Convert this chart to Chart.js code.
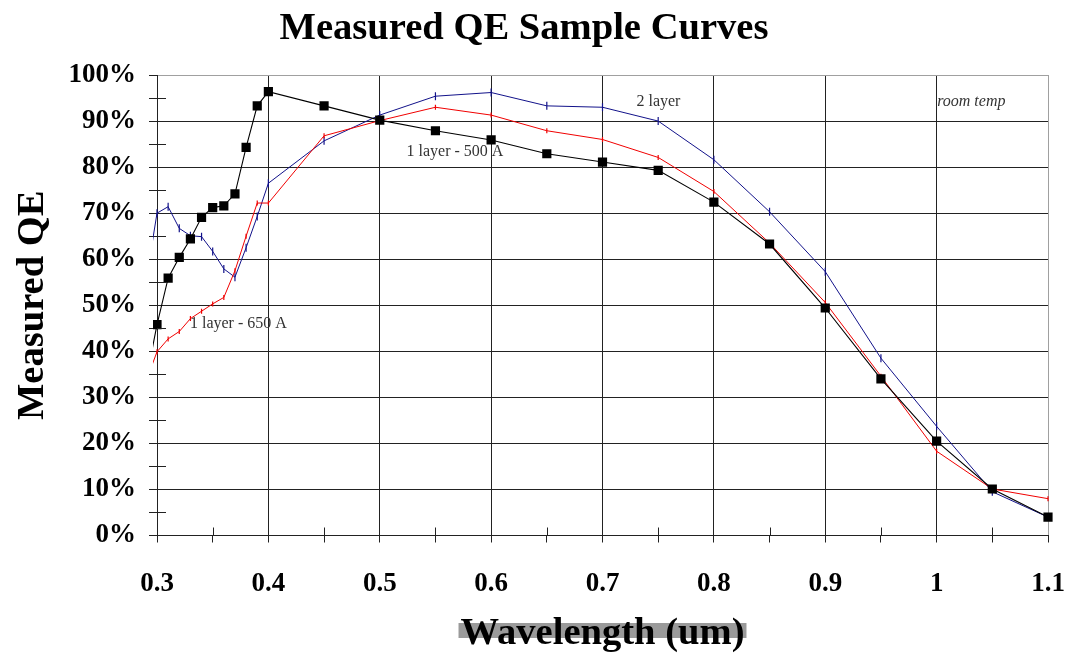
<!DOCTYPE html>
<html>
<head>
<meta charset="utf-8">
<title>Measured QE Sample Curves</title>
<script src="https://cdn.jsdelivr.net/npm/chart.js@4/dist/chart.umd.min.js"></script>
<style>
    html, body { margin: 0; padding: 0; background: #fff; }
    #wrap { width: 1068px; height: 654px; position: relative; }
</style>
</head>
<body>
<div id="wrap"><canvas id="qeChart"></canvas></div>
<script>
// --- DATA ---
// wavelength in um (0.29 points sit just left of the axis and are clipped)
const wavelengths = [0.29, 0.30, 0.31, 0.32, 0.33, 0.34, 0.35, 0.36, 0.37, 0.38, 0.39, 0.40,
                     0.45, 0.50, 0.55, 0.60, 0.65, 0.70, 0.75, 0.80, 0.85, 0.90, 0.95, 1.00, 1.05, 1.10];

// measured QE in %
const qe500A = [33.4, 45.8, 55.9, 60.4, 64.4, 69.1, 71.2, 71.6, 74.2, 84.3, 93.3, 96.4,
                93.3, 90.2, 87.9, 85.9, 82.9, 81.1, 79.3, 72.4, 63.3, 49.4, 34.0, 20.5, 10.1, 4.0];
const qe650A = [33.4, 39.9, 42.7, 44.3, 47.1, 48.7, 50.3, 51.7, 57.5, 65.0, 72.2, 72.2,
                86.8, 90.1, 93.0, 91.3, 87.9, 86.0, 82.1, 74.7, 63.5, 50.6, 34.6, 18.3, 10.1, 8.0];
const qe2Layer = [55.0, 70.0, 71.4, 66.7, 65.1, 64.9, 61.7, 57.9, 56.1, 62.5, 69.3, 76.5,
                  85.7, 91.3, 95.4, 96.2, 93.3, 93.0, 90.0, 81.6, 70.3, 57.3, 38.5, 23.7, 9.5, 4.0];

const seriesNames = ['1 layer - 500 A', '1 layer - 650 A', '2 layer'];

// text notes placed in data coordinates (left edge, vertical middle)
const notes = [
    { text: '2 layer', x: 0.7305, y: 94.1, italic: false },
    { text: '1 layer - 500 A', x: 0.524, y: 83.3, italic: false },
    { text: '1 layer - 650 A', x: 0.3296, y: 45.9, italic: false },
    { text: 'room temp', x: 1.0005, y: 94.1, italic: true }
];

const SERIF = '"Liberation Serif", "Times New Roman", serif';

function toPoints(values) {
    return wavelengths.map((w, i) => ({ x: w, y: values[i] }));
}

// --- PLUGIN: minor ticks inside the axes, notes, grey bar under x title ---
const extrasPlugin = {
    id: 'extras',
    beforeDraw(chart) {
        const ctx = chart.ctx;
        const xScale = chart.scales.x;
        ctx.save();
        ctx.font = 'bold 38.6px ' + SERIF;
        const w = ctx.measureText(xScale.options.title.text).width;
        const cx = (chart.chartArea.left + chart.chartArea.right) / 2;
        ctx.fillStyle = '#9a9a9a';
        ctx.fillRect(cx - w / 2 - 2, chart.height - 31, w + 4, 15);
        ctx.restore();
    },
    afterDraw(chart) {
        const ctx = chart.ctx;
        const area = chart.chartArea;
        const xs = chart.scales.x;
        const ys = chart.scales.y;
        ctx.save();
        ctx.strokeStyle = '#222';
        ctx.lineWidth = 1;
        ctx.beginPath();
        for (let v = 5; v < 100; v += 10) {
            const py = Math.round(ys.getPixelForValue(v)) + 0.5;
            ctx.moveTo(area.left, py);
            ctx.lineTo(area.left + 9, py);
        }
        for (let k = 35; k < 110; k += 10) {
            const px = Math.round(xs.getPixelForValue(k / 100)) + 0.5;
            ctx.moveTo(px, area.bottom);
            ctx.lineTo(px, area.bottom - 8);
        }
        ctx.stroke();

        ctx.fillStyle = '#333';
        ctx.textBaseline = 'middle';
        ctx.textAlign = 'left';
        notes.forEach(n => {
            ctx.font = (n.italic ? 'italic ' : '') + '16px ' + SERIF;
            ctx.fillText(n.text, xs.getPixelForValue(n.x), ys.getPixelForValue(n.y));
        });
        ctx.restore();
    }
};

// --- CHART ---
new Chart(document.getElementById('qeChart'), {
    type: 'line',
    data: {
        datasets: [
            {
                label: seriesNames[0],
                data: toPoints(qe500A),
                borderColor: '#000',
                backgroundColor: '#000',
                borderWidth: 1.1,
                pointStyle: 'rect',
                pointRadius: 6.5,
                pointBorderWidth: 0,
                clip: { left: 4, top: 10, right: 10, bottom: 10 }
            },
            {
                label: seriesNames[1],
                data: toPoints(qe650A),
                borderColor: '#f00000',
                backgroundColor: '#f00000',
                borderWidth: 1,
                pointStyle: 'line',
                pointRotation: 90,
                pointRadius: 2.5,
                pointBorderWidth: 1.2,
                clip: { left: 4, top: 10, right: 10, bottom: 10 }
            },
            {
                label: seriesNames[2],
                data: toPoints(qe2Layer),
                borderColor: '#12128a',
                backgroundColor: '#12128a',
                borderWidth: 1,
                pointStyle: 'line',
                pointRotation: 90,
                pointRadius: 4,
                pointBorderWidth: 1.2,
                clip: { left: 4, top: 10, right: 10, bottom: 10 }
            }
        ]
    },
    options: {
        responsive: true,
        maintainAspectRatio: false,
        animation: false,
        events: [],
        layout: { padding: { left: 0, right: 20, top: 0, bottom: 0 } },
        elements: { line: { tension: 0 } },
        plugins: {
            legend: { display: false },
            tooltip: { enabled: false },
            title: {
                display: true,
                text: 'Measured QE Sample Curves',
                color: '#000',
                font: { family: SERIF, size: 38.6, weight: 'bold', lineHeight: 1.2 },
                padding: { top: 6, bottom: 22.7 }
            }
        },
        scales: {
            x: {
                type: 'linear',
                min: 0.3,
                max: 1.1,
                afterFit: s => { s.height = 118.5; s.paddingLeft = 0; s.paddingRight = 0; },
                ticks: {
                    stepSize: 0.05,
                    autoSkip: false,
                    maxRotation: 0,
                    padding: 25,
                    color: '#000',
                    font: { family: SERIF, size: 27, weight: 'bold' },
                    callback: v => {
                        const k = Math.round(v * 100);
                        return k % 10 ? '' : String(k / 100);
                    }
                },
                grid: {
                    tickLength: 7,
                    tickColor: '#222',
                    color: c => {
                        const k = Math.round(c.tick.value * 100);
                        if (k === 110) return '#a0a0a0';
                        return k % 10 ? 'transparent' : '#222';
                    }
                },
                border: { color: '#222', width: 1 },
                title: {
                    display: true,
                    text: 'Wavelength (um)',
                    color: '#000',
                    font: { family: SERIF, size: 38.6, weight: 'bold', lineHeight: 1.0 },
                    padding: { top: 0, bottom: 1 }
                }
            },
            y: {
                min: 0,
                max: 100,
                afterFit: s => { s.width = 157; s.paddingTop = 0; s.paddingBottom = 0; },
                ticks: {
                    stepSize: 5,
                    autoSkip: false,
                    padding: 13,
                    color: '#000',
                    font: { family: SERIF, size: 27, weight: 'bold' },
                    callback: v => (v % 10 === 0 ? v + '%' : '')
                },
                grid: {
                    tickLength: 8,
                    tickColor: '#222',
                    color: c => {
                        if (c.tick.value === 100) return '#a0a0a0';
                        return c.tick.value % 10 ? 'transparent' : '#222';
                    }
                },
                border: { color: '#222', width: 1 },
                title: {
                    display: true,
                    text: 'Measured QE',
                    color: '#000',
                    font: { family: SERIF, size: 38.6, weight: 'bold', lineHeight: 1.2 },
                    padding: { top: 10, bottom: 0 }
                }
            }
        }
    },
    plugins: [extrasPlugin]
});
</script>
</body>
</html>
